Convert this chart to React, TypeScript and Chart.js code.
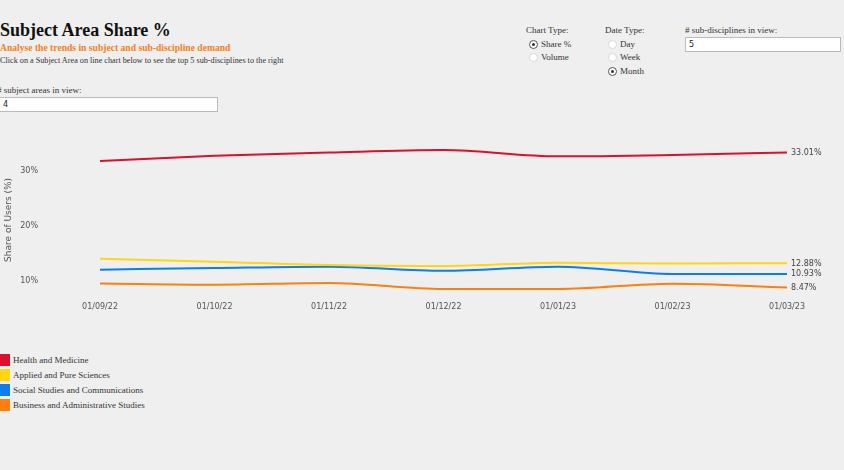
import React, { useEffect, useRef } from "react";
import { Chart, registerables } from "chart.js";

Chart.register(...registerables);

const dateLabels = ["01/09/22", "01/10/22", "01/11/22", "01/12/22", "01/01/23", "01/02/23", "01/03/23"];
const seriesNames = [
  "Health and Medicine",
  "Applied and Pure Sciences",
  "Social Studies and Communications",
  "Business and Administrative Studies",
];
const seriesColors = ["#dc0f2c", "#ffd60f", "#0a7ef0", "#ff7f0e"];
const healthValues = [31.45, 32.4, 33.0, 33.45, 32.3, 32.55, 33.01];
const sciencesValues = [13.7, 13.15, 12.55, 12.36, 12.97, 12.8, 12.88];
const socialValues = [11.7, 12.0, 12.24, 11.5, 12.24, 10.9, 10.93];
const businessValues = [9.2, 8.96, 9.27, 8.18, 8.18, 9.15, 8.47];
const seriesValues = [healthValues, sciencesValues, socialValues, businessValues];
const yTicks = [10, 20, 30];

const endLabelPlugin = {
  id: "endLabels",
  afterDatasetsDraw(chart: any) {
    const ctx = chart.ctx;
    ctx.save();
    ctx.font = "8px 'DejaVu Sans'";
    ctx.fillStyle = "#444";
    ctx.textBaseline = "middle";
    ctx.textAlign = "left";
    chart.data.datasets.forEach((ds: any, i: number) => {
      const meta = chart.getDatasetMeta(i);
      const last = meta.data[meta.data.length - 1];
      const v = ds.data[ds.data.length - 1];
      ctx.fillText(v.toFixed(2) + "%", last.x + 4, last.y + 0.5);
    });
    ctx.restore();
  },
};

const serif = "'Liberation Serif', 'Times New Roman', serif";

function Radio({ checked }: { checked: boolean }) {
  return (
    <span
      style={{
        position: "absolute",
        left: -12,
        top: 1,
        width: 9,
        height: 9,
        borderRadius: "50%",
        background: "#fff",
        border: "1px solid " + (checked ? "#555" : "#d8d8d8"),
        boxSizing: "border-box",
      }}
    >
      {checked && (
        <span
          style={{
            position: "absolute",
            left: 2,
            top: 2,
            width: 3,
            height: 3,
            borderRadius: "50%",
            background: "#333",
          }}
        />
      )}
    </span>
  );
}

function Opt({ x, y, text, checked }: { x: number; y: number; text: string; checked: boolean }) {
  return (
    <div style={{ position: "absolute", left: x, top: y, fontSize: 9, lineHeight: "11px", color: "#333", whiteSpace: "nowrap" }}>
      <Radio checked={checked} />
      {text}
    </div>
  );
}

export default function App() {
  const canvasRef = useRef<HTMLCanvasElement | null>(null);

  useEffect(() => {
    if (!canvasRef.current) return;
    const chart = new Chart(canvasRef.current, {
      type: "line",
      data: {
        labels: dateLabels,
        datasets: seriesNames.map((name, i) => ({
          label: name,
          data: seriesValues[i],
          borderColor: seriesColors[i],
          backgroundColor: seriesColors[i],
          borderWidth: 2,
          pointRadius: 0,
          pointHoverRadius: 0,
          cubicInterpolationMode: "monotone" as const,
          fill: false,
        })),
      },
      options: {
        animation: false,
        responsive: false,
        maintainAspectRatio: false,
        layout: { padding: { top: 27, right: 57, left: 0, bottom: 0 } },
        plugins: { legend: { display: false }, tooltip: { enabled: false } },
        scales: {
          x: {
            type: "category",
            offset: false,
            grid: { display: false, drawTicks: false },
            border: { display: false },
            ticks: {
              color: "#555",
              font: { family: "'DejaVu Sans'", size: 8 },
              padding: 9,
              maxRotation: 0,
              autoSkip: false,
            },
            afterFit(scale: any) {
              scale.height = 27.25;
            },
          },
          y: {
            min: 7.5,
            max: 34,
            grid: { display: false, drawTicks: false },
            border: { display: false },
            afterBuildTicks(scale: any) {
              scale.ticks = yTicks.map((v) => ({ value: v }));
            },
            afterFit(scale: any) {
              scale.width = 100;
              scale.paddingTop = 0;
              scale.paddingBottom = 0;
            },
            ticks: {
              color: "#555",
              font: { family: "'DejaVu Sans'", size: 8 },
              padding: 62,
              labelOffset: 1.5,
              callback: (v: any) => v + "%",
            },
            title: {
              display: true,
              text: "Share of Users (%)",
              color: "#555",
              font: { family: "'DejaVu Sans'", size: 9 },
              padding: { top: 3, bottom: 0 },
            },
          },
        },
      },
      plugins: [endLabelPlugin],
    } as any);
    return () => chart.destroy();
  }, []);

  return (
    <div
      style={{
        position: "fixed",
        left: 0,
        top: 0,
        width: 844,
        height: 470,
        background: "#efefef",
        fontFamily: serif,
        overflow: "hidden",
      }}
    >
      <div style={{ position: "absolute", left: 0, top: 19, fontSize: 18, fontWeight: "bold", color: "#111", lineHeight: "22px", whiteSpace: "nowrap" }}>
        Subject Area Share %
      </div>
      <div style={{ position: "absolute", left: 0, top: 42, fontSize: 9.6, fontWeight: "bold", color: "#f7801a", lineHeight: "12px", whiteSpace: "nowrap" }}>
        Analyse the trends in subject and sub-discipline demand
      </div>
      <div style={{ position: "absolute", left: 0, top: 56, fontSize: 8.2, color: "#333", lineHeight: "10px", whiteSpace: "nowrap" }}>
        Click on a Subject Area on line chart below to see the top 5 sub-disciplines to the right
      </div>
      <div style={{ position: "absolute", left: -3, top: 85, fontSize: 9, color: "#333", lineHeight: "11px", whiteSpace: "nowrap" }}>
        # subject areas in view:
      </div>
      <div
        style={{
          position: "absolute",
          left: -2,
          top: 97,
          width: 220,
          height: 15,
          background: "#fff",
          border: "1px solid #bbb",
          boxSizing: "border-box",
          fontFamily: "'DejaVu Sans'",
          fontSize: 8,
          lineHeight: "13px",
          paddingLeft: 4,
          color: "#222",
        }}
      >
        4
      </div>

      <div style={{ position: "absolute", left: 526, top: 25, fontSize: 9, color: "#333", lineHeight: "11px" }}>Chart Type:</div>
      <Opt x={541} y={39} text="Share %" checked={true} />
      <Opt x={541} y={52} text="Volume" checked={false} />

      <div style={{ position: "absolute", left: 605, top: 25, fontSize: 9, color: "#333", lineHeight: "11px" }}>Date Type:</div>
      <Opt x={620} y={39} text="Day" checked={false} />
      <Opt x={620} y={52} text="Week" checked={false} />
      <Opt x={620} y={66} text="Month" checked={true} />

      <div style={{ position: "absolute", left: 685, top: 25, fontSize: 9, color: "#333", lineHeight: "11px", whiteSpace: "nowrap" }}>
        # sub-disciplines in view:
      </div>
      <div
        style={{
          position: "absolute",
          left: 685,
          top: 37,
          width: 156,
          height: 15,
          background: "#fff",
          border: "1px solid #bbb",
          boxSizing: "border-box",
          fontFamily: "'DejaVu Sans'",
          fontSize: 8,
          lineHeight: "13px",
          paddingLeft: 3,
          color: "#222",
        }}
      >
        5
      </div>

      <canvas
        ref={canvasRef}
        width={844}
        height={200}
        style={{ position: "absolute", left: 0, top: 120, width: 844, height: 200 }}
      />

      {seriesNames.map((name, i) => (
        <div
          key={name}
          style={{ position: "absolute", left: 0, top: 354 + i * 15, height: 12, fontSize: 9, color: "#333", lineHeight: "12px", whiteSpace: "nowrap" }}
        >
          <span style={{ position: "absolute", left: 0, top: 0, width: 10, height: 12, background: seriesColors[i] }} />
          <span style={{ position: "absolute", left: 13, top: 0 }}>{name}</span>
        </div>
      ))}
    </div>
  );
}
